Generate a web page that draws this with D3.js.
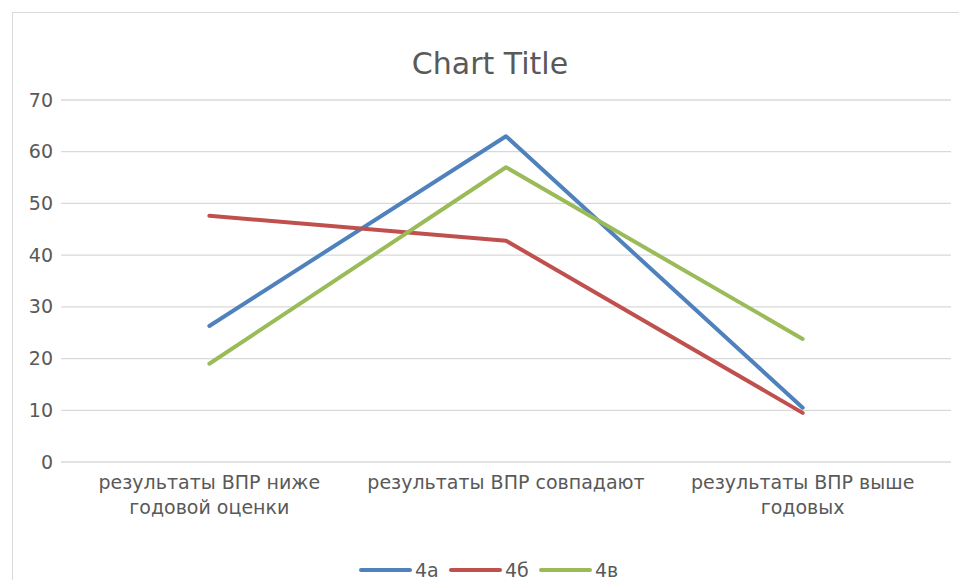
<!DOCTYPE html>
<html lang="ru">
<head>
  <meta charset="UTF-8">
  <title>chart</title>
  <script src="https://d3js.org/d3.v7.min.js"></script>
  <style>
    body { margin: 0; background: #fff; }
    text { font-family: "DejaVu Sans", sans-serif; fill: #595959; }
  </style>
</head>
<body>
  <svg id="chart" width="959" height="580"></svg>
  <script>
    // data
    const categories = [
      ["результаты ВПР ниже", "годовой оценки"],
      ["результаты ВПР совпадают"],
      ["результаты ВПР выше", "годовых"]
    ];
    const seriesNames = ["4а", "4б", "4в"];
    const values4a = [26.3, 63.0, 10.5];
    const values4b = [47.6, 42.8, 9.5];
    const values4v = [19.0, 57.0, 23.8];
    const yTicks = [0, 10, 20, 30, 40, 50, 60, 70];
    const colors = ["#4F81BD", "#C0504D", "#9BBB59"];

    const series = [values4a, values4b, values4v].map((v, i) => ({ name: seriesNames[i], values: v, color: colors[i] }));

    const svg = d3.select("#chart");

    // outer chart border
    svg.append("rect")
      .attr("x", 12.5).attr("y", 12.5)
      .attr("width", 960).attr("height", 600)
      .attr("fill", "none").attr("stroke", "#d9d9d9");

    svg.append("text")
      .attr("x", 490).attr("y", 74)
      .attr("text-anchor", "middle")
      .style("font-size", "30px")
      .text("Chart Title");

    const x = d3.scaleBand().domain(d3.range(categories.length)).range([61, 951]);
    const y = d3.scaleLinear().domain([0, 70]).range([462, 100]);

    // gridlines
    svg.append("g").selectAll("line").data(yTicks).join("line")
      .attr("x1", 61).attr("x2", 951)
      .attr("y1", d => y(d)).attr("y2", d => y(d))
      .attr("stroke", "#d9d9d9").attr("stroke-width", 1.3);

    const yAxis = svg.append("g").attr("transform", "translate(61,0)")
      .call(d3.axisLeft(y).tickValues(yTicks).tickSize(0).tickPadding(8));
    yAxis.select(".domain").remove();
    yAxis.selectAll("text").style("font-size", "19px").attr("fill", "#595959");

    // category labels
    const cat = svg.append("g").selectAll("text").data(categories).join("text")
      .attr("x", (d, i) => x(i) + x.bandwidth() / 2)
      .attr("y", 489)
      .attr("text-anchor", "middle")
      .style("font-size", "19px");
    cat.selectAll("tspan").data(d => d).join("tspan")
      .attr("x", function () { return d3.select(this.parentNode).attr("x"); })
      .attr("dy", (d, i) => i === 0 ? 0 : 25)
      .text(d => d);

    const line = d3.line()
      .x((d, i) => x(i) + x.bandwidth() / 2)
      .y(d => y(d));

    svg.append("g").selectAll("path").data(series).join("path")
      .attr("d", d => line(d.values))
      .attr("fill", "none")
      .attr("stroke", d => d.color)
      .attr("stroke-width", 4)
      .attr("stroke-linecap", "round")
      .attr("stroke-linejoin", "round");

    // legend
    const legendX = [360, 450, 540];
    const lg = svg.append("g").selectAll("g").data(series).join("g")
      .attr("transform", (d, i) => `translate(${legendX[i]},570)`);
    lg.append("line")
      .attr("x1", 1).attr("x2", 50)
      .attr("stroke", d => d.color).attr("stroke-width", 4)
      .attr("stroke-linecap", "round");
    lg.append("text")
      .attr("x", 55).attr("y", 7)
      .style("font-size", "19px")
      .text(d => d.name);
  </script>
</body>
</html>
